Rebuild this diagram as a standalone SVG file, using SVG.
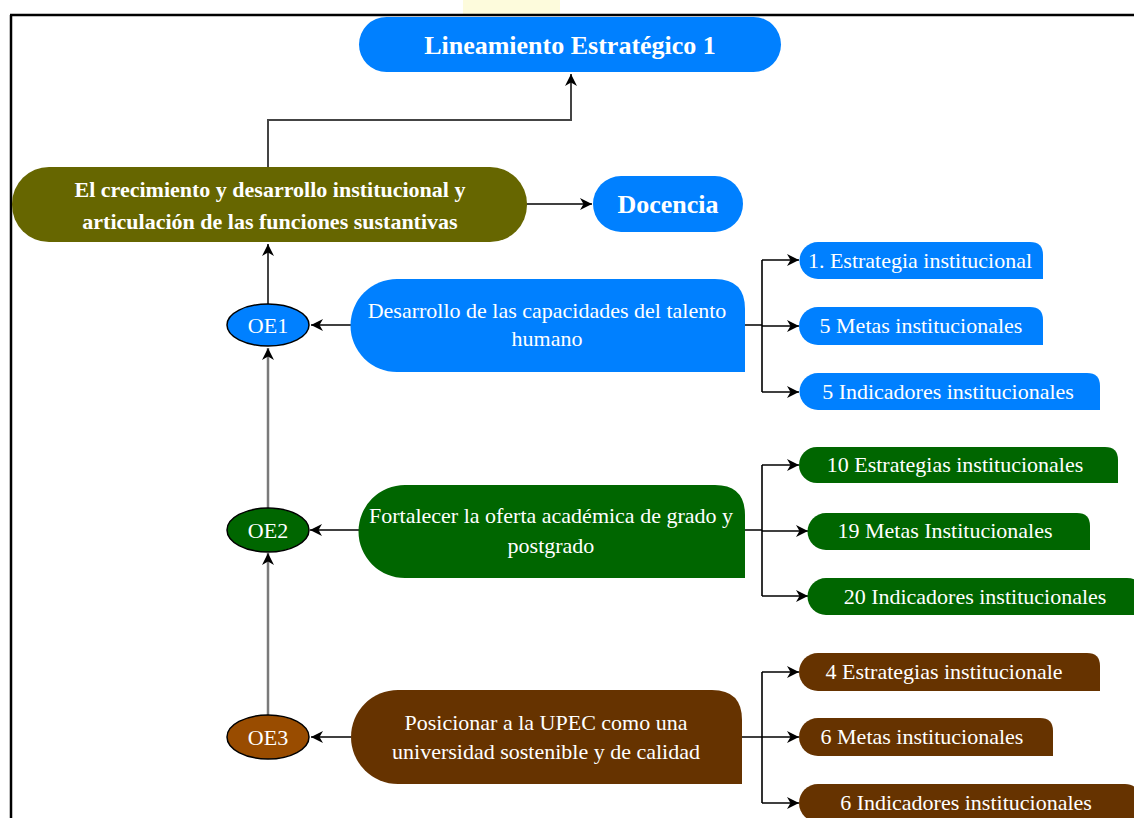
<svg xmlns="http://www.w3.org/2000/svg" width="1134" height="818" viewBox="0 0 1134 818">
<style>
.t{font-family:"Liberation Serif","Times New Roman",serif;fill:#fff;text-anchor:middle}
.b{font-weight:bold}
.s22{font-size:22px}
.s26{font-size:26px}
.ln{fill:none;stroke:#000;stroke-width:1.6}
.gr{fill:none;stroke:#7a7a7a;stroke-width:2.5}
.dk{fill:none;stroke:#444;stroke-width:2}
.blue{fill:#0080ff}
.olive{fill:#666600}
.green{fill:#006600}
.brown{fill:#663300}
.ell{stroke:#000;stroke-width:1.5}
</style>
<defs>
<marker id="ah" markerUnits="userSpaceOnUse" markerWidth="14" markerHeight="12" refX="12" refY="6" orient="auto">
<path d="M0,0 L12,6 L0,12 L3.5,6 Z" fill="#000"/>
</marker>
</defs>
<rect x="0" y="0" width="1134" height="818" fill="#fff"/>
<rect x="463" y="0" width="97" height="14" fill="#fdfbdc"/>
<path d="M10,15 H1134 M11,15 V818" fill="none" stroke="#000" stroke-width="2.5"/>

<g id="connectors">
<path class="dk" d="M268,167 V120 H571 V74" marker-end="url(#ah)"/>
<path class="ln" d="M527,204 H592" marker-end="url(#ah)"/>
<path class="dk" d="M268,304 V244" marker-end="url(#ah)"/>
<path class="gr" d="M268,508 V348" marker-end="url(#ah)"/>
<path class="gr" d="M268,715 V553" marker-end="url(#ah)"/>
<path class="ln" d="M351,325 H311" marker-end="url(#ah)"/>
<path class="ln" d="M359,530 H310" marker-end="url(#ah)"/>
<path class="ln" d="M351,737 H311" marker-end="url(#ah)"/>
<path class="ln" d="M745,325 H762 M762,260 V392"/>
<path class="ln" d="M762,260 H799" marker-end="url(#ah)"/>
<path class="ln" d="M762,326 H799" marker-end="url(#ah)"/>
<path class="ln" d="M762,392 H799" marker-end="url(#ah)"/>
<path class="ln" d="M745,530 H762 M762,465 V596"/>
<path class="ln" d="M762,465 H799" marker-end="url(#ah)"/>
<path class="ln" d="M762,531 H808" marker-end="url(#ah)"/>
<path class="ln" d="M762,596 H808" marker-end="url(#ah)"/>
<path class="ln" d="M742,737 H762 M762,672 V803"/>
<path class="ln" d="M762,672 H799" marker-end="url(#ah)"/>
<path class="ln" d="M762,737 H799" marker-end="url(#ah)"/>
<path class="ln" d="M762,803 H799" marker-end="url(#ah)"/>
</g>

<g id="le1">
<rect class="blue" x="359" y="17" width="422" height="55" rx="27.5"/>
<text class="t b s26" x="570" y="54">Lineamiento Estratégico 1</text>
</g>
<g id="crecimiento">
<rect class="olive" x="12" y="167" width="515" height="75" rx="37"/>
<text class="t b s22" x="270" y="197">El crecimiento y desarrollo institucional y</text>
<text class="t b s22" x="270" y="229">articulación de las funciones sustantivas</text>
</g>
<g id="docencia">
<rect class="blue" x="593" y="176" width="150" height="56" rx="28"/>
<text class="t b s26" x="668" y="213">Docencia</text>
</g>

<g id="oe1">
<ellipse class="blue ell" cx="268" cy="325" rx="41" ry="21"/>
<text class="t s22" x="268" y="333">OE1</text>
</g>
<g id="oe2">
<ellipse class="green ell" cx="268" cy="530" rx="41" ry="22"/>
<text class="t s22" x="268" y="538">OE2</text>
</g>
<g id="oe3">
<ellipse class="ell" fill="#994c00" cx="268" cy="737" rx="41" ry="22"/>
<text class="t s22" x="268" y="745">OE3</text>
</g>

<g id="obj1">
<path class="blue" d="M397,279 H715 Q745,279 745,309 V372 H397 A46.5,46.5 0 0 1 397,279 Z"/>
<text class="t s22" x="547" y="318">Desarrollo de las capacidades del talento</text>
<text class="t s22" x="547" y="346">humano</text>
</g>
<g id="obj2">
<path class="green" d="M405,485 H715 Q745,485 745,515 V578 H405 A46.5,46.5 0 0 1 405,485 Z"/>
<text class="t s22" x="551" y="523">Fortalecer la oferta académica de grado y</text>
<text class="t s22" x="551" y="553">postgrado</text>
</g>
<g id="obj3">
<path class="brown" d="M398,690 H712 Q742,690 742,720 V784 H398 A47,47 0 0 1 398,690 Z"/>
<text class="t s22" x="546" y="730">Posicionar a la UPEC como una</text>
<text class="t s22" x="546" y="759">universidad sostenible y de calidad</text>
</g>

<g id="b1a">
<path class="blue" d="M818,242 H1030 Q1043,242 1043,255 V279 H818 A18.5,18.5 0 0 1 818,242 Z"/>
<text class="t s22" x="920" y="268">1. Estrategia institucional</text>
</g>
<g id="b1b">
<path class="blue" d="M818,307 H1030 Q1043,307 1043,320 V345 H818 A19,19 0 0 1 818,307 Z"/>
<text class="t s22" x="921" y="333">5 Metas institucionales</text>
</g>
<g id="b1c">
<path class="blue" d="M818,373 H1087 Q1100,373 1100,386 V410 H818 A18.5,18.5 0 0 1 818,373 Z"/>
<text class="t s22" x="948" y="399">5 Indicadores institucionales</text>
</g>

<g id="b2a">
<path class="green" d="M817,447 H1105 Q1118,447 1118,460 V483 H817 A18,18 0 0 1 817,447 Z"/>
<text class="t s22" x="955" y="472">10 Estrategias institucionales</text>
</g>
<g id="b2b">
<path class="green" d="M826,513 H1077 Q1090,513 1090,526 V550 H826 A18.5,18.5 0 0 1 826,513 Z"/>
<text class="t s22" x="945" y="538">19 Metas Institucionales</text>
</g>
<g id="b2c">
<path class="green" d="M826,578 H1127 Q1140,578 1140,591 V615 H826 A18.5,18.5 0 0 1 826,578 Z"/>
<text class="t s22" x="975" y="604">20 Indicadores institucionales</text>
</g>

<g id="b3a">
<path class="brown" d="M818,653 H1087 Q1100,653 1100,666 V691 H818 A19,19 0 0 1 818,653 Z"/>
<text class="t s22" x="944" y="679">4 Estrategias institucionale</text>
</g>
<g id="b3b">
<path class="brown" d="M818,718 H1040 Q1053,718 1053,731 V756 H818 A19,19 0 0 1 818,718 Z"/>
<text class="t s22" x="922" y="744">6 Metas institucionales</text>
</g>
<g id="b3c">
<path class="brown" d="M818,784 H1125 Q1138,784 1138,797 V822 H818 A19,19 0 0 1 818,784 Z"/>
<text class="t s22" x="966" y="810">6 Indicadores institucionales</text>
</g>
</svg>
